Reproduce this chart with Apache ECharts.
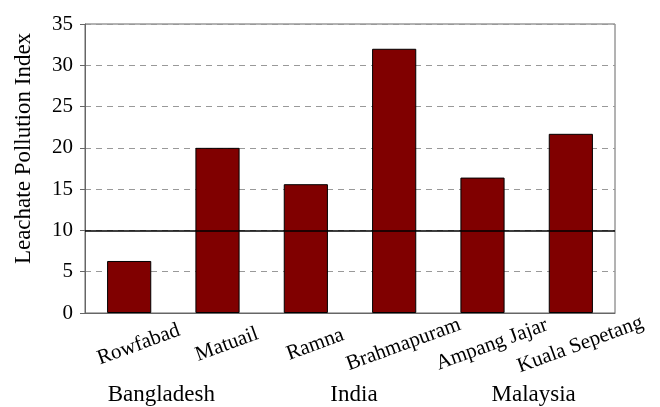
<!DOCTYPE html>
<html>
<head>
<meta charset="utf-8">
<script src="https://cdn.jsdelivr.net/npm/echarts@6/dist/echarts.min.js"></script>
<style>
html,body{margin:0;padding:0;background:#fff;}
#chart{width:660px;height:407px;}
</style>
</head>
<body>
<div id="chart"></div>
<script>
const categories = ['Rowfabad', 'Matuail', 'Ramna', 'Brahmapuram', 'Ampang Jajar', 'Kuala Sepetang'];
const lpiValues = [6.3, 20.0, 15.6, 32.0, 16.4, 21.7];
const countries = ['Bangladesh', 'India', 'Malaysia'];
const threshold = 10;
const yMin = 0, yMax = 35, yStep = 5;

const FONT = '"Liberation Serif", "Times New Roman", serif';
const countryPad = [[0, 24, 0, 0], [0, 0, 0, 8], [0, 0, 0, 14]];

const chart = echarts.init(document.getElementById('chart'), null, {renderer: 'canvas'});
chart.setOption({
  animation: false,
  backgroundColor: '#fff',
  grid: {left: 85, right: 45, top: 24, bottom: 94, show: true, borderColor: '#666', borderWidth: 1,
         backgroundColor: 'transparent', containLabel: false, outerBoundsMode: 'none'},
  xAxis: [{
    type: 'category',
    data: categories,
    axisLine: {show: true, lineStyle: {color: '#666', width: 1}},
    axisTick: {show: false},
    axisLabel: {
      rotate: 20, interval: 0, margin: 35,
      align: 'center', verticalAlign: 'middle',
      padding: [0, 0, 0, 20],
      fontFamily: FONT, fontSize: 21, color: '#000'
    }
  }, {
    type: 'category',
    data: countries.map((c, i) => ({value: c, textStyle: {padding: countryPad[i]}})),
    position: 'bottom',
    axisLine: {show: false},
    axisTick: {show: false},
    splitLine: {show: false},
    axisLabel: {margin: 70, verticalAlign: 'middle', fontFamily: FONT, fontSize: 23, color: '#000', interval: 0}
  }],
  yAxis: {
    type: 'value',
    min: yMin, max: yMax, interval: yStep,
    name: 'Leachate Pollution Index',
    nameLocation: 'middle',
    nameGap: 50,
    nameTextStyle: {fontFamily: FONT, fontSize: 23, color: '#000', padding: [0, 0, 0, 40]},
    axisLine: {show: true, lineStyle: {color: '#666', width: 1}},
    axisTick: {show: true, length: 5, lineStyle: {color: '#666'}},
    axisLabel: {margin: 12, fontFamily: FONT, fontSize: 21, color: '#000'},
    splitLine: {show: true, lineStyle: {color: '#999', type: [6, 5], width: 1}}
  },
  series: [{
    type: 'bar',
    data: lpiValues,
    barWidth: '50%',
    itemStyle: {color: '#800000', borderColor: '#000', borderWidth: 1},
    markLine: {
      silent: true,
      symbol: ['none', 'none'],
      label: {show: false},
      lineStyle: {color: '#000', type: 'solid', width: 1.5},
      data: [{yAxis: threshold}]
    }
  }]
});
</script>
</body>
</html>
